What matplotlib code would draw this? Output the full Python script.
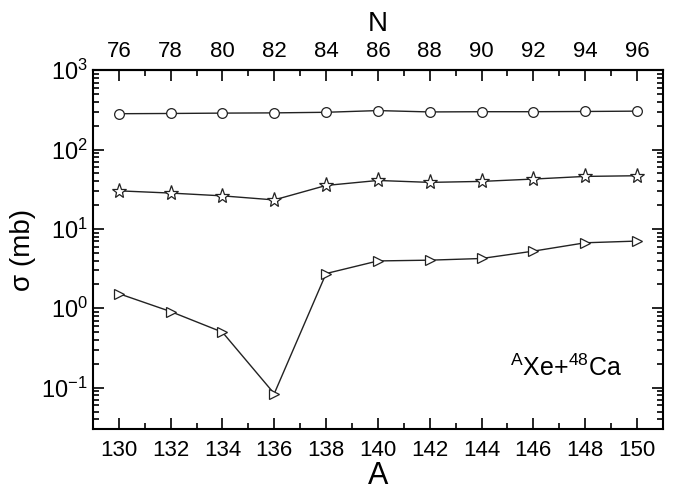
import numpy as np
import matplotlib.pyplot as plt
from matplotlib.ticker import MultipleLocator, LogLocator, NullFormatter, FixedLocator

plt.rcParams['font.family'] = ['Liberation Sans', 'DejaVu Sans']
plt.rcParams['mathtext.fontset'] = 'custom'
plt.rcParams['mathtext.rm'] = 'Liberation Sans'
plt.rcParams['mathtext.it'] = 'Liberation Sans'

# 質量数 A
mass_A = [130, 132, 134, 136, 138, 140, 142, 144, 146, 148, 150]
# 中性子数 N (上側の軸)
neutron_N = [76, 78, 80, 82, 84, 86, 88, 90, 92, 94, 96]
# 三つの系列 (mb)
sigma_circle = [283, 285, 288, 290, 295, 310, 298, 300, 300, 302, 305]
sigma_star = [30.2, 28.3, 26.1, 23.2, 35.3, 40.8, 38.6, 39.7, 42.5, 45.9, 46.8]
sigma_tri = [1.53, 0.91, 0.50, 0.084, 2.74, 3.95, 4.04, 4.24, 5.25, 6.69, 7.03]

fig = plt.figure(figsize=(6.73, 4.91), dpi=100)
ax = fig.add_axes([0.138, 0.126, 0.847, 0.731])

ax.plot(mass_A, sigma_circle, color='#222222', lw=1.0, marker='o', ms=7,
        mfc='white', mec='#222222', mew=0.9)
ax.plot(mass_A, sigma_star, color='#222222', lw=1.0, marker='*', ms=11,
        mfc='white', mec='#222222', mew=0.9)
ax.plot(mass_A, sigma_tri, color='#222222', lw=1.0, marker='>', ms=7,
        mfc='white', mec='#222222', mew=0.9)

ax.set_yscale('log')
ax.set_xlim(129, 151)
ax.set_ylim(0.03, 1000)

ax.xaxis.set_major_locator(FixedLocator(mass_A))
ax.xaxis.set_minor_locator(MultipleLocator(1))
ax.yaxis.set_major_locator(LogLocator(base=10, numticks=10))
ax.yaxis.set_minor_locator(LogLocator(base=10, subs=np.arange(2, 10), numticks=10))
ax.yaxis.set_minor_formatter(NullFormatter())

ax.tick_params(which='both', direction='in', right=True, labelsize=16, width=1.2)
ax.tick_params(axis='y', labelsize=17)
ax.tick_params(which='major', length=8)
ax.tick_params(which='minor', length=4.5)
ax.tick_params(axis='x', which='both', top=False, pad=8)
for s in ax.spines.values():
    s.set_linewidth(1.5)

ax.set_xlabel('A', fontsize=22, labelpad=0)
ax.set_ylabel('σ (mb)', fontsize=20, labelpad=4)

# 上側の N 軸 (N = A - 54)
top = ax.secondary_xaxis('top', functions=(lambda a: a - 54, lambda n: n + 54))
top.xaxis.set_major_locator(FixedLocator(neutron_N))
top.xaxis.set_minor_locator(FixedLocator(np.arange(75, 98)))
top.xaxis.set_minor_formatter(NullFormatter())
top.tick_params(which='both', direction='in', labelsize=16, width=1.2, pad=6)
top.tick_params(which='major', length=8)
top.tick_params(which='minor', length=4.5)
top.spines['top'].set_linewidth(1.5)
top.set_xlabel('N', fontsize=20, labelpad=7)

ax.text(145.1, 0.14, r'$^{\mathrm{A}}$Xe+$^{48}$Ca', fontsize=18,
        ha='left', va='baseline')

fig.savefig('out.png', dpi=100)
